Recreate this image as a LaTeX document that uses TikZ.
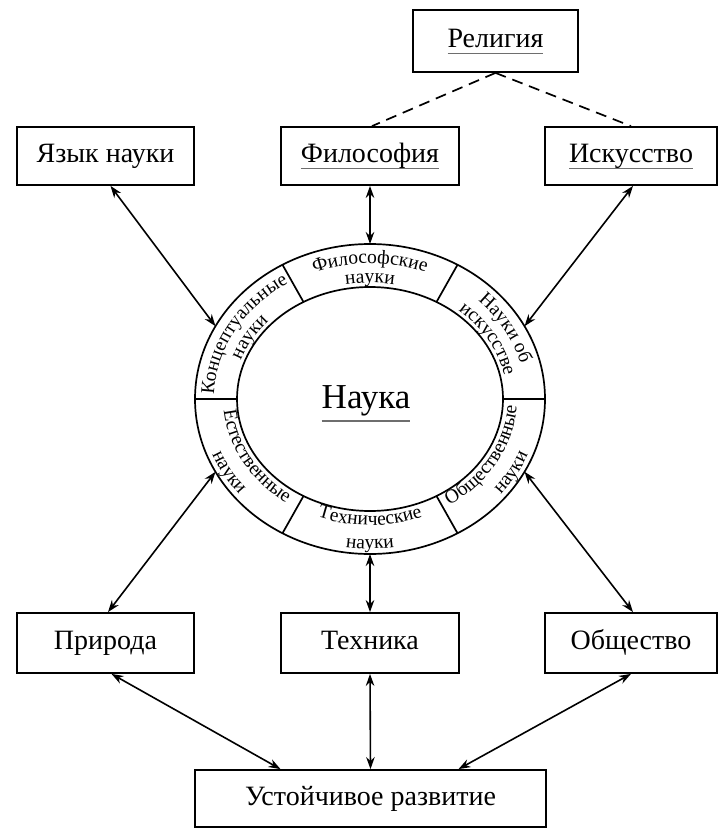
\documentclass[tikz,border=0pt]{standalone}
\usepackage{fontspec}
\setmainfont{Liberation Serif}
\usetikzlibrary{arrows.meta,decorations.text,calc}
\definecolor{ulgray}{RGB}{110,110,110}
\newsavebox\ulbox
\newcommand\ulword[2][7pt]{\sbox\ulbox{#2}\leavevmode\rlap{\textcolor{ulgray}{\rule[-#1]{\wd\ulbox}{1.6pt}}}\usebox\ulbox}
\newcommand\ringfont{\fontsize{19.5}{21}\selectfont}
\newcommand\ringtext[5]{%
  \path[decorate,decoration={text along path,text align=center,text={|\ringfont|#5}}]
    ($(C)+(#3:#1 and #2)$) arc[start angle=#3,end angle=#4,x radius=#1,y radius=#2];}
\begin{document}
\begin{tikzpicture}[x=1pt,y=1pt,
  box/.style={draw,line width=1.8pt,inner sep=0pt,font=\fontsize{28}{30}\selectfont,text height=19pt,text depth=6pt},
  arr/.style={line width=1.6pt,{Stealth[length=12pt,width=8.5pt]}-{Stealth[length=12pt,width=8.5pt]}},
  dash line/.style={line width=1.7pt,dash pattern=on 11pt off 7pt},
  ringline/.style={line width=1.7pt}]
\useasboundingbox (0,0) rectangle (720,-829);
% boxes
\node[box,minimum width=165pt,minimum height=62pt] (rel) at (495.5,-41) {\ulword{Религия}};
\node[box,minimum width=177pt,minimum height=58pt] (jaz) at (105.5,-156) {Язык науки};
\node[box,minimum width=178pt,minimum height=58pt] (fil) at (370,-156) {\ulword{Философия}};
\node[box,minimum width=172pt,minimum height=58pt] (isk) at (631,-156) {\ulword{Искусство}};
\node[box,minimum width=177pt,minimum height=60pt] (pri) at (105.5,-643) {Природа};
\node[box,minimum width=178pt,minimum height=60pt] (teh) at (370,-643) {Техника};
\node[box,minimum width=172pt,minimum height=60pt] (obs) at (631,-643) {Общество};
\node[box,minimum width=351pt,minimum height=57pt] (ust) at (370.5,-798.5) {Устойчивое развитие};
% ring
\coordinate (C) at (370,-399);
\draw[ringline] (C) ellipse [x radius=175,y radius=155];
\draw[ringline] (C) ellipse [x radius=133,y radius=112];
\foreach \a in {0,60,120,180,240,300}
  \draw[ringline] ($(C)+(\a:133 and 112)$) -- ($(C)+(\a:175 and 155)$);
\node[font=\fontsize{35}{37}\selectfont,anchor=base] (nauka) at (366,-408) {\ulword[14pt]{Наука}};
% ring texts
\ringtext{156}{135.6}{120}{60}{Философские}
\ringtext{137}{116.3}{120}{60}{науки}
\ringtext{156}{135.6}{180}{120}{Концептуальные}
\ringtext{137}{116.3}{180}{120}{науки}
\ringtext{156}{135.6}{60}{0}{Науки об}
\ringtext{137}{116.3}{60}{0}{искусстве}
\ringtext{146.9}{126.2}{180}{240}{Естественные}
\ringtext{170}{149.8}{180}{240}{науки}
\ringtext{146.9}{126.2}{240}{300}{Технические}
\ringtext{170}{149.8}{240}{300}{науки}
\ringtext{146.9}{126.2}{300}{360}{Общественные}
\ringtext{170}{149.8}{300}{360}{науки}
% ring anchor points
\coordinate (rT) at ($(C)+(90:175 and 155)$);
\coordinate (rB) at ($(C)+(270:175 and 155)$);
\coordinate (rTL) at ($(C)+(152:175 and 155)$);
\coordinate (rTR) at ($(C)+(28:175 and 155)$);
\coordinate (rBL) at ($(C)+(208:175 and 155)$);
\coordinate (rBR) at ($(C)+(332:175 and 155)$);
% connectors
\draw[dash line] (rel.south) -- ([xshift=2pt]fil.north);
\draw[dash line] (rel.south) -- (isk.north);
\draw[arr] ([xshift=5pt]jaz.south) -- (rTL);
\draw[arr] (fil.south) -- (rT);
\draw[arr] ([xshift=2pt]isk.south) -- (rTR);
\draw[arr] ([xshift=2.5pt]pri.north) -- (rBL);
\draw[arr] (teh.north) -- (rB);
\draw[arr] ([xshift=2pt]obs.north) -- (rBR);
\draw[arr] ([xshift=6pt]pri.south) -- ([xshift=-90pt]ust.north);
\draw[arr] (teh.south) -- (ust.north);
\draw[arr] (obs.south) -- ([xshift=88pt]ust.north);
\end{tikzpicture}
\end{document}
